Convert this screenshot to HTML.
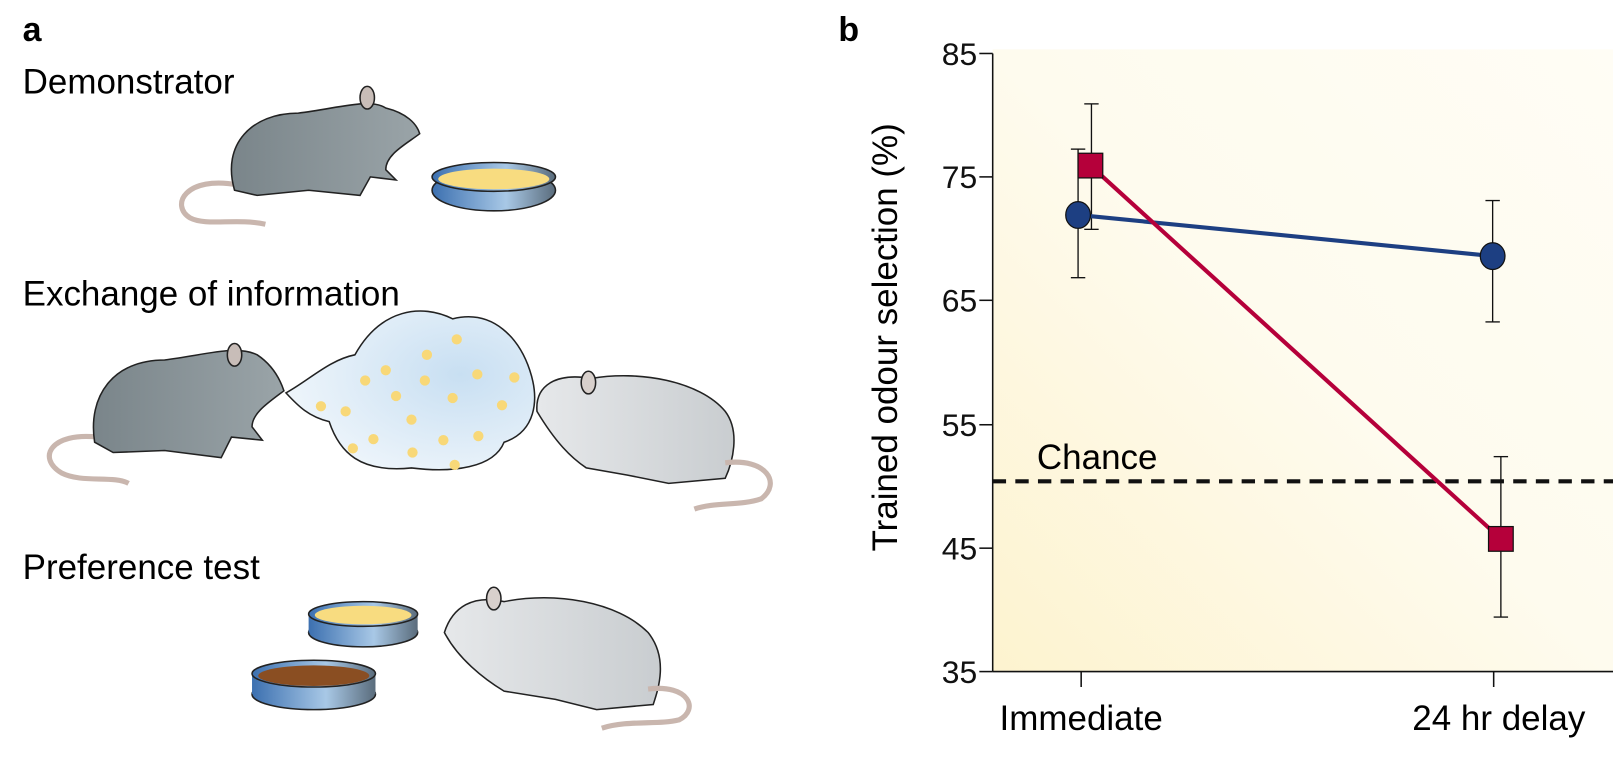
<!DOCTYPE html>
<html><head><style>
body{margin:0;background:#fff;}
svg{display:block;font-family:"Liberation Sans",sans-serif;}
</style></head><body>
<svg width="1613" height="759" viewBox="0 0 1568 738" preserveAspectRatio="none">
<defs>
<linearGradient id="bg" x1="0" y1="1" x2="1" y2="0">
<stop offset="0" stop-color="#fdf3cf"/><stop offset="0.5" stop-color="#fefbee"/><stop offset="1" stop-color="#fffdf5"/>
</linearGradient>
<linearGradient id="dk" x1="0" x2="1"><stop offset="0" stop-color="#7a858a"/><stop offset="1" stop-color="#9aa4a8"/></linearGradient>
<linearGradient id="lt" x1="0" x2="1"><stop offset="0" stop-color="#e6e8ea"/><stop offset="1" stop-color="#c9cdd0"/></linearGradient>
<linearGradient id="dish" x1="0" x2="1"><stop offset="0" stop-color="#3c70b0"/><stop offset="0.6" stop-color="#a8c8e6"/><stop offset="1" stop-color="#5a6c7c"/></linearGradient>
<radialGradient id="cl" cx="0.7" cy="0.4" r="0.8"><stop offset="0" stop-color="#c8dff2"/><stop offset="1" stop-color="#f3f8fc"/></radialGradient>
</defs>
<!-- panel a -->
<text x="22" y="40" font-size="33" font-weight="bold">a</text>
<text x="22" y="91" font-size="34">Demonstrator</text>
<text x="22" y="297" font-size="34">Exchange of information</text>
<text x="22" y="563" font-size="34">Preference test</text>
<!-- rat 1 -->
<g stroke="#222" stroke-width="1.5">
<path d="M232,180 C180,170 165,200 185,212 C200,220 230,212 258,218" fill="none" stroke="#c9b6ae" stroke-width="5"/>
<path d="M228,185 C215,140 245,110 290,110 C330,105 360,95 375,105 C395,110 405,120 408,130 C395,140 375,150 375,165 L385,175 L360,172 L350,190 L300,185 L250,190 Z" fill="url(#dk)"/>
<ellipse cx="357" cy="95" rx="7" ry="11" fill="#c8bdb8"/>
<ellipse cx="480" cy="185" rx="60" ry="20" fill="url(#dish)"/>
<ellipse cx="480" cy="172" rx="60" ry="14" fill="url(#dish)"/>
<ellipse cx="480" cy="174" rx="54" ry="10" fill="#f8dc80" stroke="none"/>
</g>
<!-- rat 2 dark -->
<g stroke="#222" stroke-width="1.5">
<path d="M95,425 C50,420 35,445 60,460 C80,470 110,462 125,470" fill="none" stroke="#c9b6ae" stroke-width="5"/>
<path d="M92,430 C85,385 110,350 160,350 C200,345 230,335 250,345 C265,355 272,368 276,380 C260,392 245,402 245,415 L255,428 L225,425 L215,445 L160,438 L110,440 Z" fill="url(#dk)"/>
<ellipse cx="228" cy="345" rx="7" ry="11" fill="#c8bdb8"/>
<path d="M278,382 C290,395 300,405 320,410 C330,440 350,460 400,455 C440,460 480,455 490,430 C520,420 525,390 515,360 C505,330 480,300 440,310 C410,295 370,300 345,345 C320,350 300,370 278,382 Z" fill="url(#cl)"/>
<path d="M522,400 C520,375 540,362 575,368 C620,360 680,370 705,400 C720,420 712,450 705,465 L650,470 L610,462 L570,455 C555,445 540,430 522,400 Z" fill="url(#lt)"/>
<path d="M705,450 C745,445 760,470 740,485 C720,492 695,488 675,495" fill="none" stroke="#c9b6ae" stroke-width="5"/>
<ellipse cx="572" cy="372" rx="7" ry="11" fill="#d8d0cc"/>
</g>
<g fill="#f8d878">
<circle cx="444" cy="330" r="5"/><circle cx="415" cy="345" r="5"/><circle cx="355" cy="370" r="5"/><circle cx="375" cy="360" r="5"/><circle cx="464" cy="364" r="5"/><circle cx="500" cy="367" r="5"/><circle cx="413" cy="370" r="5"/><circle cx="440" cy="387" r="5"/><circle cx="385" cy="385" r="5"/><circle cx="336" cy="400" r="5"/><circle cx="312" cy="395" r="5"/><circle cx="488" cy="394" r="5"/><circle cx="400" cy="408" r="5"/><circle cx="363" cy="427" r="5"/><circle cx="343" cy="436" r="5"/><circle cx="431" cy="428" r="5"/><circle cx="465" cy="424" r="5"/><circle cx="401" cy="440" r="5"/><circle cx="442" cy="452" r="5"/>
</g>
<!-- test -->
<g stroke="#222" stroke-width="1.5">
<ellipse cx="353" cy="615" rx="53" ry="14" fill="url(#dish)"/>
<rect x="300" y="597" width="106" height="18" fill="url(#dish)" stroke="none"/>
<ellipse cx="353" cy="597" rx="53" ry="12" fill="url(#dish)"/>
<ellipse cx="353" cy="598" rx="47" ry="9" fill="#f8dc80" stroke="none"/>
<ellipse cx="305" cy="675" rx="60" ry="15" fill="url(#dish)"/>
<rect x="245" y="655" width="120" height="20" fill="url(#dish)" stroke="none"/>
<ellipse cx="305" cy="655" rx="60" ry="13" fill="url(#dish)"/>
<ellipse cx="305" cy="657" rx="54" ry="10" fill="#8a4e22" stroke="none"/>
<path d="M432,615 C440,590 460,578 490,585 C540,575 600,585 630,615 C650,640 640,670 635,685 L580,690 L540,680 L490,672 C470,660 445,640 432,615 Z" fill="url(#lt)"/>
<path d="M630,670 C670,665 680,690 660,700 C640,705 610,700 585,708" fill="none" stroke="#c9b6ae" stroke-width="5"/>
<ellipse cx="480" cy="582" rx="7" ry="11" fill="#d8d0cc"/>
</g>
<!-- panel b -->
<text x="815" y="40" font-size="33" font-weight="bold">b</text>
<rect x="965" y="48" width="603" height="605" fill="url(#bg)"/>
<g stroke="#111" stroke-width="1.5">
<line x1="965" y1="52" x2="965" y2="653"/>
<line x1="965" y1="653" x2="1568" y2="653"/>
<line x1="952" y1="52" x2="965" y2="52"/><line x1="952" y1="172" x2="965" y2="172"/><line x1="952" y1="292" x2="965" y2="292"/><line x1="952" y1="413" x2="965" y2="413"/><line x1="952" y1="533" x2="965" y2="533"/><line x1="952" y1="653" x2="965" y2="653"/>
<line x1="1051" y1="653" x2="1051" y2="668"/><line x1="1452" y1="653" x2="1452" y2="668"/>
</g>
<g font-size="31" text-anchor="end" fill="#111">
<text x="950" y="63">85</text><text x="950" y="183">75</text><text x="950" y="303">65</text><text x="950" y="424">55</text><text x="950" y="544">45</text><text x="950" y="664">35</text>
</g>
<text x="1051" y="710" font-size="34" text-anchor="middle">Immediate</text>
<text x="1457" y="710" font-size="34" text-anchor="middle">24 hr delay</text>
<text transform="translate(872,328) rotate(-90)" font-size="34" text-anchor="middle">Trained odour selection (%)</text>
<line x1="965" y1="468" x2="1568" y2="468" stroke="#111" stroke-width="4" stroke-dasharray="13,9"/>
<text x="1008" y="456" font-size="34">Chance</text>
<g stroke="#111" stroke-width="1.3">
<line x1="1048" y1="145" x2="1048" y2="270"/><line x1="1041" y1="145" x2="1055" y2="145"/><line x1="1041" y1="270" x2="1055" y2="270"/>
<line x1="1061" y1="101" x2="1061" y2="223"/><line x1="1054" y1="101" x2="1068" y2="101"/><line x1="1054" y1="223" x2="1068" y2="223"/>
<line x1="1451" y1="195" x2="1451" y2="313"/><line x1="1444" y1="195" x2="1458" y2="195"/><line x1="1444" y1="313" x2="1458" y2="313"/>
<line x1="1459" y1="444" x2="1459" y2="600"/><line x1="1452" y1="444" x2="1466" y2="444"/><line x1="1452" y1="600" x2="1466" y2="600"/>
</g>
<line x1="1048" y1="209" x2="1451" y2="249" stroke="#1d3f82" stroke-width="4"/>
<line x1="1060" y1="161" x2="1459" y2="524" stroke="#b5003a" stroke-width="4"/>
<ellipse cx="1048" cy="209" rx="12" ry="13" fill="#1d3f82" stroke="#111" stroke-width="1.2"/>
<ellipse cx="1451" cy="249" rx="12" ry="13" fill="#1d3f82" stroke="#111" stroke-width="1.2"/>
<rect x="1048" y="149" width="24" height="24" fill="#b5003a" stroke="#111" stroke-width="1.2"/>
<rect x="1447" y="512" width="24" height="24" fill="#b5003a" stroke="#111" stroke-width="1.2"/>
</svg>
</body></html>
